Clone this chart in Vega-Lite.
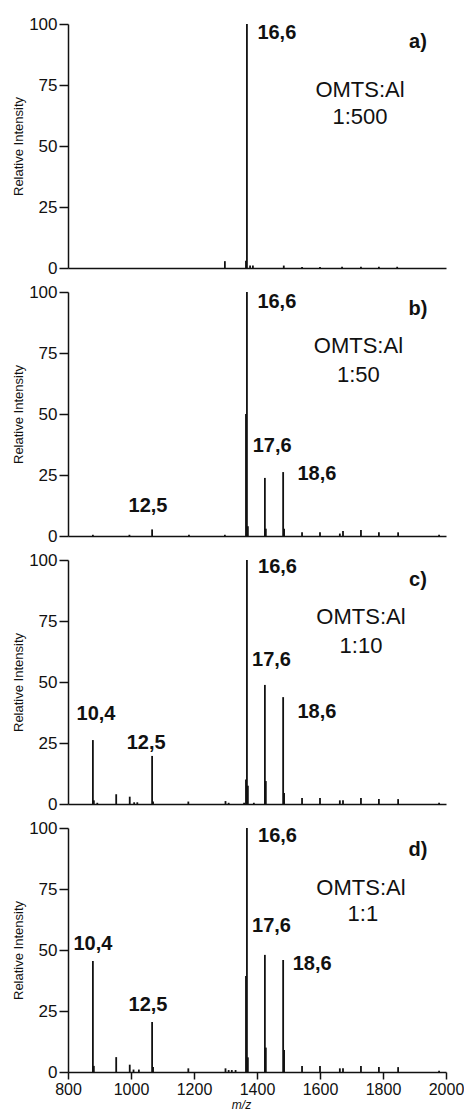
{
  "$schema": "https://vega.github.io/schema/vega-lite/v6.json",
  "background": "white",
  "padding": {"left": 12, "top": 15, "right": 0, "bottom": 10},
  "spacing": 24,
  "bounds": "flush",
  "datasets": {
    "spectra": [
      {"panel": "a", "mz": 1298, "intensity": 2.8},
      {"panel": "a", "mz": 1365, "intensity": 3},
      {"panel": "a", "mz": 1368, "intensity": 100},
      {"panel": "a", "mz": 1378, "intensity": 1},
      {"panel": "a", "mz": 1387, "intensity": 1},
      {"panel": "a", "mz": 1485, "intensity": 1},
      {"panel": "a", "mz": 1543, "intensity": 0.4},
      {"panel": "a", "mz": 1600, "intensity": 0.4},
      {"panel": "a", "mz": 1670, "intensity": 0.5},
      {"panel": "a", "mz": 1730, "intensity": 0.5},
      {"panel": "a", "mz": 1787, "intensity": 0.5},
      {"panel": "a", "mz": 1845, "intensity": 0.5},

      {"panel": "b", "mz": 879, "intensity": 0.5},
      {"panel": "b", "mz": 995, "intensity": 0.5},
      {"panel": "b", "mz": 1067, "intensity": 2.7},
      {"panel": "b", "mz": 1184, "intensity": 0.5},
      {"panel": "b", "mz": 1298, "intensity": 0.5},
      {"panel": "b", "mz": 1365, "intensity": 50},
      {"panel": "b", "mz": 1368, "intensity": 100},
      {"panel": "b", "mz": 1371, "intensity": 4},
      {"panel": "b", "mz": 1425, "intensity": 23.8},
      {"panel": "b", "mz": 1428, "intensity": 3},
      {"panel": "b", "mz": 1483, "intensity": 26.2},
      {"panel": "b", "mz": 1486, "intensity": 3},
      {"panel": "b", "mz": 1543, "intensity": 1.5},
      {"panel": "b", "mz": 1600, "intensity": 1.5},
      {"panel": "b", "mz": 1663, "intensity": 1},
      {"panel": "b", "mz": 1673, "intensity": 2},
      {"panel": "b", "mz": 1730, "intensity": 2.5},
      {"panel": "b", "mz": 1787, "intensity": 1.5},
      {"panel": "b", "mz": 1848, "intensity": 1.5},
      {"panel": "b", "mz": 1978, "intensity": 0.5},

      {"panel": "c", "mz": 879, "intensity": 26.2},
      {"panel": "c", "mz": 882, "intensity": 1.5},
      {"panel": "c", "mz": 893, "intensity": 0.5},
      {"panel": "c", "mz": 953, "intensity": 4},
      {"panel": "c", "mz": 996, "intensity": 3},
      {"panel": "c", "mz": 1010, "intensity": 0.7},
      {"panel": "c", "mz": 1020, "intensity": 0.7},
      {"panel": "c", "mz": 1067, "intensity": 19.7},
      {"panel": "c", "mz": 1070, "intensity": 1},
      {"panel": "c", "mz": 1182, "intensity": 1},
      {"panel": "c", "mz": 1300, "intensity": 1.2},
      {"panel": "c", "mz": 1310, "intensity": 0.5},
      {"panel": "c", "mz": 1359, "intensity": 0.5},
      {"panel": "c", "mz": 1365, "intensity": 10},
      {"panel": "c", "mz": 1368, "intensity": 100},
      {"panel": "c", "mz": 1371, "intensity": 7.5},
      {"panel": "c", "mz": 1390, "intensity": 0.5},
      {"panel": "c", "mz": 1425, "intensity": 48.8},
      {"panel": "c", "mz": 1428, "intensity": 9.4},
      {"panel": "c", "mz": 1483, "intensity": 43.8},
      {"panel": "c", "mz": 1486, "intensity": 4.5},
      {"panel": "c", "mz": 1543, "intensity": 2.5},
      {"panel": "c", "mz": 1600, "intensity": 2.5},
      {"panel": "c", "mz": 1663, "intensity": 1.5},
      {"panel": "c", "mz": 1673, "intensity": 1.5},
      {"panel": "c", "mz": 1730, "intensity": 2.5},
      {"panel": "c", "mz": 1787, "intensity": 2},
      {"panel": "c", "mz": 1848, "intensity": 2},
      {"panel": "c", "mz": 1978, "intensity": 0.5},

      {"panel": "d", "mz": 879, "intensity": 45.5},
      {"panel": "d", "mz": 882, "intensity": 2.5},
      {"panel": "d", "mz": 953, "intensity": 6.1},
      {"panel": "d", "mz": 996, "intensity": 3},
      {"panel": "d", "mz": 1008, "intensity": 1},
      {"panel": "d", "mz": 1025, "intensity": 1},
      {"panel": "d", "mz": 1067, "intensity": 20.5},
      {"panel": "d", "mz": 1070, "intensity": 2},
      {"panel": "d", "mz": 1182, "intensity": 1.5},
      {"panel": "d", "mz": 1300, "intensity": 1.5},
      {"panel": "d", "mz": 1310, "intensity": 0.8},
      {"panel": "d", "mz": 1320, "intensity": 0.8},
      {"panel": "d", "mz": 1332, "intensity": 0.8},
      {"panel": "d", "mz": 1365, "intensity": 39.3},
      {"panel": "d", "mz": 1368, "intensity": 100},
      {"panel": "d", "mz": 1371, "intensity": 6},
      {"panel": "d", "mz": 1425, "intensity": 48},
      {"panel": "d", "mz": 1428, "intensity": 10},
      {"panel": "d", "mz": 1483, "intensity": 45.9},
      {"panel": "d", "mz": 1486, "intensity": 9},
      {"panel": "d", "mz": 1543, "intensity": 2.5},
      {"panel": "d", "mz": 1600, "intensity": 2.5},
      {"panel": "d", "mz": 1663, "intensity": 1.5},
      {"panel": "d", "mz": 1673, "intensity": 1.5},
      {"panel": "d", "mz": 1730, "intensity": 2.5},
      {"panel": "d", "mz": 1787, "intensity": 2},
      {"panel": "d", "mz": 1848, "intensity": 2},
      {"panel": "d", "mz": 1978, "intensity": 0.5}
    ],
    "labels": [
      {"panel": "a", "kind": "bold", "label": "16,6", "mz": 1463, "y": 96.3},
      {"panel": "a", "kind": "bold", "label": "a)", "mz": 1911, "y": 92.6},
      {"panel": "a", "kind": "plain", "label": "OMTS:Al", "mz": 1727, "y": 73},
      {"panel": "a", "kind": "plain", "label": "1:500", "mz": 1727, "y": 62},

      {"panel": "b", "kind": "bold", "label": "16,6", "mz": 1463, "y": 95.9},
      {"panel": "b", "kind": "bold", "label": "b)", "mz": 1911, "y": 93},
      {"panel": "b", "kind": "plain", "label": "OMTS:Al", "mz": 1722, "y": 78},
      {"panel": "b", "kind": "plain", "label": "1:50", "mz": 1722, "y": 66},
      {"panel": "b", "kind": "bold", "label": "17,6", "mz": 1448, "y": 37},
      {"panel": "b", "kind": "bold", "label": "18,6", "mz": 1590, "y": 25.4},
      {"panel": "b", "kind": "bold", "label": "12,5", "mz": 1054, "y": 12.3},

      {"panel": "c", "kind": "bold", "label": "16,6", "mz": 1465, "y": 97},
      {"panel": "c", "kind": "bold", "label": "c)", "mz": 1911, "y": 92},
      {"panel": "c", "kind": "plain", "label": "OMTS:Al", "mz": 1730, "y": 76.6},
      {"panel": "c", "kind": "plain", "label": "1:10", "mz": 1730, "y": 64.7},
      {"panel": "c", "kind": "bold", "label": "17,6", "mz": 1446, "y": 59},
      {"panel": "c", "kind": "bold", "label": "18,6", "mz": 1590, "y": 37.7},
      {"panel": "c", "kind": "bold", "label": "10,4", "mz": 889, "y": 36.9},
      {"panel": "c", "kind": "bold", "label": "12,5", "mz": 1048, "y": 25},

      {"panel": "d", "kind": "bold", "label": "16,6", "mz": 1465, "y": 96.7},
      {"panel": "d", "kind": "bold", "label": "d)", "mz": 1911, "y": 91},
      {"panel": "d", "kind": "plain", "label": "OMTS:Al", "mz": 1730, "y": 75.4},
      {"panel": "d", "kind": "plain", "label": "1:1", "mz": 1736, "y": 64.8},
      {"panel": "d", "kind": "bold", "label": "17,6", "mz": 1446, "y": 59.8},
      {"panel": "d", "kind": "bold", "label": "18,6", "mz": 1575, "y": 44.3},
      {"panel": "d", "kind": "bold", "label": "10,4", "mz": 879, "y": 52.5},
      {"panel": "d", "kind": "bold", "label": "12,5", "mz": 1054, "y": 27.4}
    ]
  },
  "vconcat": [
    {
      "width": 378, "height": 244,
      "layer": [
        {"data": {"name": "spectra"}, "transform": [{"filter": "datum.panel == 'a'"}],
         "mark": {"type": "rule", "strokeWidth": 1.8, "color": "#111"},
         "encoding": {
           "x": {"field": "mz", "type": "quantitative", "scale": {"domain": [800, 2000]}, "axis": {"labels": false, "ticks": false, "title": null}},
           "y": {"field": "intensity", "type": "quantitative", "scale": {"domain": [0, 100]},
                 "axis": {"title": "Relative Intensity", "values": [0, 12.5, 25, 37.5, 50, 62.5, 75, 87.5, 100], "labelExpr": "datum.value % 25 == 0 ? datum.label : ''", "tickSize": {"condition": {"test": "datum.value % 25 != 0", "value": 4}, "value": 9}}},
           "y2": {"datum": 0}}},
        {"data": {"name": "labels"}, "transform": [{"filter": "datum.panel == 'a' && datum.kind == 'bold'"}],
         "mark": {"type": "text", "fontWeight": "bold", "fontSize": 20, "color": "#111"},
         "encoding": {"x": {"field": "mz", "type": "quantitative"}, "y": {"field": "y", "type": "quantitative"}, "text": {"field": "label"}}},
        {"data": {"name": "labels"}, "transform": [{"filter": "datum.panel == 'a' && datum.kind == 'plain'"}],
         "mark": {"type": "text", "fontSize": 22, "color": "#111"},
         "encoding": {"x": {"field": "mz", "type": "quantitative"}, "y": {"field": "y", "type": "quantitative"}, "text": {"field": "label"}}}
      ]
    },
    {
      "width": 378, "height": 244,
      "layer": [
        {"data": {"name": "spectra"}, "transform": [{"filter": "datum.panel == 'b'"}],
         "mark": {"type": "rule", "strokeWidth": 1.8, "color": "#111"},
         "encoding": {
           "x": {"field": "mz", "type": "quantitative", "scale": {"domain": [800, 2000]}, "axis": {"labels": false, "ticks": false, "title": null}},
           "y": {"field": "intensity", "type": "quantitative", "scale": {"domain": [0, 100]},
                 "axis": {"title": "Relative Intensity", "values": [0, 12.5, 25, 37.5, 50, 62.5, 75, 87.5, 100], "labelExpr": "datum.value % 25 == 0 ? datum.label : ''", "tickSize": {"condition": {"test": "datum.value % 25 != 0", "value": 4}, "value": 9}}},
           "y2": {"datum": 0}}},
        {"data": {"name": "labels"}, "transform": [{"filter": "datum.panel == 'b' && datum.kind == 'bold'"}],
         "mark": {"type": "text", "fontWeight": "bold", "fontSize": 20, "color": "#111"},
         "encoding": {"x": {"field": "mz", "type": "quantitative"}, "y": {"field": "y", "type": "quantitative"}, "text": {"field": "label"}}},
        {"data": {"name": "labels"}, "transform": [{"filter": "datum.panel == 'b' && datum.kind == 'plain'"}],
         "mark": {"type": "text", "fontSize": 22, "color": "#111"},
         "encoding": {"x": {"field": "mz", "type": "quantitative"}, "y": {"field": "y", "type": "quantitative"}, "text": {"field": "label"}}}
      ]
    },
    {
      "width": 378, "height": 244,
      "layer": [
        {"data": {"name": "spectra"}, "transform": [{"filter": "datum.panel == 'c'"}],
         "mark": {"type": "rule", "strokeWidth": 1.8, "color": "#111"},
         "encoding": {
           "x": {"field": "mz", "type": "quantitative", "scale": {"domain": [800, 2000]}, "axis": {"labels": false, "ticks": false, "title": null}},
           "y": {"field": "intensity", "type": "quantitative", "scale": {"domain": [0, 100]},
                 "axis": {"title": "Relative Intensity", "values": [0, 12.5, 25, 37.5, 50, 62.5, 75, 87.5, 100], "labelExpr": "datum.value % 25 == 0 ? datum.label : ''", "tickSize": {"condition": {"test": "datum.value % 25 != 0", "value": 4}, "value": 9}}},
           "y2": {"datum": 0}}},
        {"data": {"name": "labels"}, "transform": [{"filter": "datum.panel == 'c' && datum.kind == 'bold'"}],
         "mark": {"type": "text", "fontWeight": "bold", "fontSize": 20, "color": "#111"},
         "encoding": {"x": {"field": "mz", "type": "quantitative"}, "y": {"field": "y", "type": "quantitative"}, "text": {"field": "label"}}},
        {"data": {"name": "labels"}, "transform": [{"filter": "datum.panel == 'c' && datum.kind == 'plain'"}],
         "mark": {"type": "text", "fontSize": 22, "color": "#111"},
         "encoding": {"x": {"field": "mz", "type": "quantitative"}, "y": {"field": "y", "type": "quantitative"}, "text": {"field": "label"}}}
      ]
    },
    {
      "width": 378, "height": 244,
      "layer": [
        {"data": {"name": "spectra"}, "transform": [{"filter": "datum.panel == 'd'"}],
         "mark": {"type": "rule", "strokeWidth": 1.8, "color": "#111"},
         "encoding": {
           "x": {"field": "mz", "type": "quantitative", "scale": {"domain": [800, 2000]},
                 "axis": {"title": "m/z", "titleFontStyle": "italic", "titleFontSize": 12, "titlePadding": 2, "titleX": 173, "format": "d", "labelFontSize": 16,
                          "values": [800, 900, 1000, 1100, 1200, 1300, 1400, 1500, 1600, 1700, 1800, 1900, 2000],
                          "labelExpr": "datum.value % 200 == 0 ? datum.label : ''",
                          "tickSize": {"condition": {"test": "datum.value % 200 != 0", "value": 4}, "value": 7}}},
           "y": {"field": "intensity", "type": "quantitative", "scale": {"domain": [0, 100]},
                 "axis": {"title": "Relative Intensity", "values": [0, 12.5, 25, 37.5, 50, 62.5, 75, 87.5, 100], "labelExpr": "datum.value % 25 == 0 ? datum.label : ''", "tickSize": {"condition": {"test": "datum.value % 25 != 0", "value": 4}, "value": 9}}},
           "y2": {"datum": 0}}},
        {"data": {"name": "labels"}, "transform": [{"filter": "datum.panel == 'd' && datum.kind == 'bold'"}],
         "mark": {"type": "text", "fontWeight": "bold", "fontSize": 20, "color": "#111"},
         "encoding": {"x": {"field": "mz", "type": "quantitative"}, "y": {"field": "y", "type": "quantitative"}, "text": {"field": "label"}}},
        {"data": {"name": "labels"}, "transform": [{"filter": "datum.panel == 'd' && datum.kind == 'plain'"}],
         "mark": {"type": "text", "fontSize": 22, "color": "#111"},
         "encoding": {"x": {"field": "mz", "type": "quantitative"}, "y": {"field": "y", "type": "quantitative"}, "text": {"field": "label"}}}
      ]
    }
  ],
  "config": {
    "view": {"stroke": null},
    "font": "Liberation Sans",
    "text": {"font": "Liberation Sans"},
    "axis": {
      "grid": false,
      "labelFlush": false,
      "domainColor": "#111", "domainWidth": 1.5,
      "tickColor": "#111", "tickWidth": 1.5,
      "labelFont": "Liberation Sans", "labelFontSize": 17, "labelColor": "#111", "labelPadding": 2, "labelOverlap": false,
      "titleFont": "Liberation Sans", "titleFontWeight": "normal", "titleFontSize": 13, "titleColor": "#111", "titlePadding": 3
    }
  }
}
